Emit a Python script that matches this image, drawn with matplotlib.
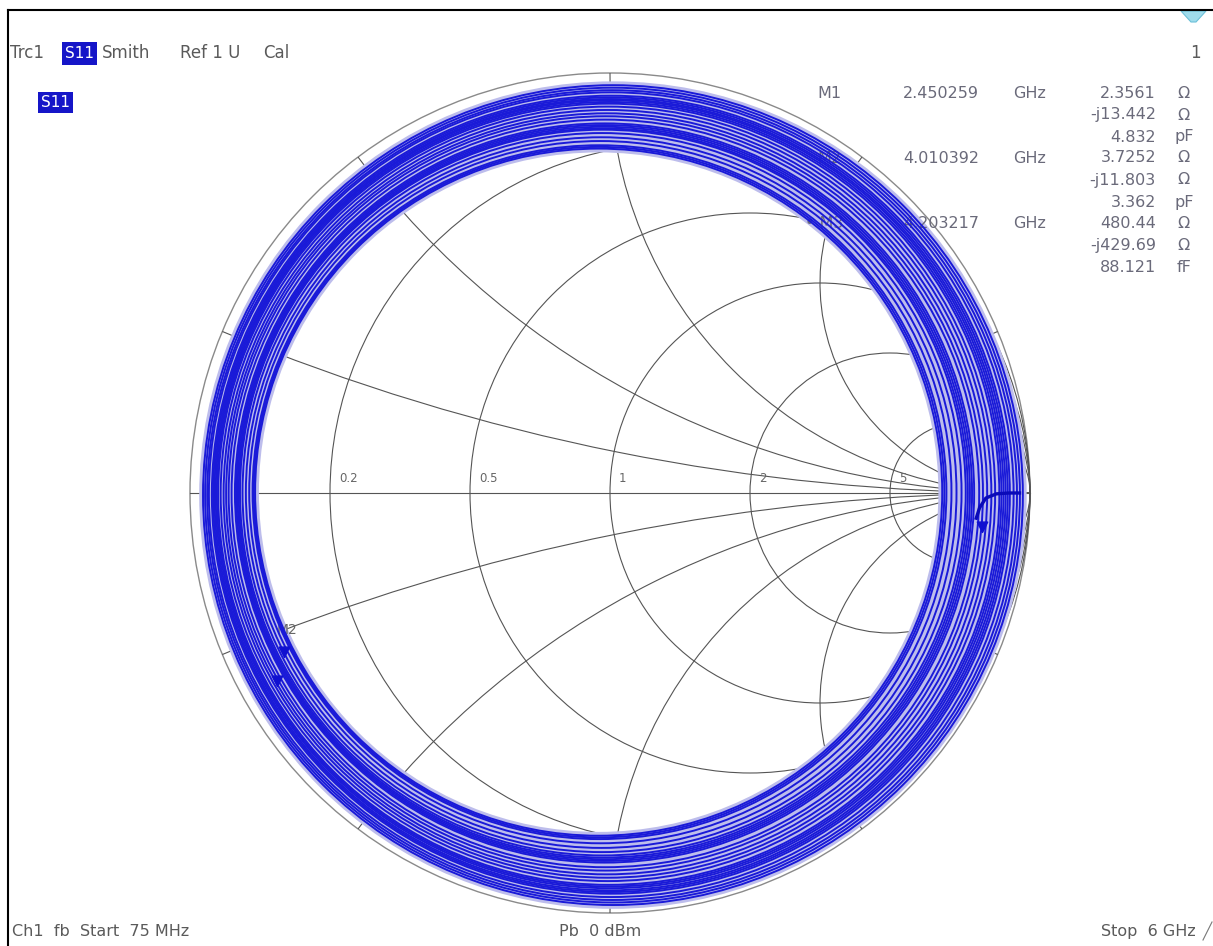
import numpy as np
import matplotlib
matplotlib.use("Agg")
import matplotlib.pyplot as plt
from matplotlib.patches import Circle, Arc, Rectangle, Polygon
from matplotlib.path import Path
import matplotlib.transforms as mtransforms

# ---------------- data ----------------
Z0 = 50.0
r_grid = [0.2, 0.5, 1, 2, 5]
x_grid = [0.2, 0.5, 1, 2, 5]
r_labels = ["0.2", "0.5", "1", "2", "5"]
x_labels = ["0.2", "0.5", "1", "2", "5"]

# S11 trace: one entry per loop of the sweep (|Gamma| of the loop and its centre)
loop_mag = [0.818, 0.822, 0.826, 0.836, 0.846, 0.856, 0.864, 0.868, 0.872, 0.876,
            0.880, 0.890, 0.898, 0.906, 0.914, 0.922, 0.930, 0.934, 0.938, 0.942,
            0.946, 0.950, 0.958, 0.964, 0.970, 0.976]
loop_center_re = [-0.027, -0.026, -0.025, -0.023, -0.021, -0.019, -0.017, -0.016,
                  -0.015, -0.014, -0.013, -0.011, -0.010, -0.008, -0.006, -0.005,
                  -0.003, -0.002, -0.001, 0.000, 0.001, 0.002, 0.003, 0.005,
                  0.006, 0.007]
loop_center_im = [0.002, 0.002, 0.002, 0.002, 0.001, 0.001, 0.001, 0.000, 0.000,
                  0.000, 0.000, -0.001, -0.001, -0.002, -0.002, -0.002, -0.003,
                  -0.003, -0.003, -0.004, -0.004, -0.004, -0.004, -0.005, -0.005,
                  -0.005]
# low-frequency start of the sweep near the open point
start_re = [0.975, 0.950, 0.920, 0.895, 0.880, 0.872]
start_im = [0.000, 0.000, -0.002, -0.012, -0.035, -0.060]

# markers
marker_names = ["M1", "M2", "M3"]
marker_freq = ["2.450259", "4.010392", "4.203217"]
marker_R = [2.3561, 3.7252, 480.44]
marker_X = [-13.442, -11.803, -429.69]
marker_C = ["4.832", "3.362", "88.121"]
marker_C_unit = ["pF", "pF", "fF"]

# ---------------- figure ----------------
W, H = 1213, 946
fig = plt.figure(figsize=(W / 100, H / 100), dpi=100)
fig.patch.set_facecolor("white")
CX, CY, R = 610, 493, 420
ax = fig.add_axes([0, 0, 1, 1])
ax.set_xlim(-CX / R, (W - CX) / R)
ax.set_ylim(-(H - CY) / R, CY / R)
ax.axis("off")

pix = mtransforms.Affine2D().scale(1 / W, -1 / H).translate(0, 1) + fig.transFigure

grid_c = "#555555"
txt_c = "#5a5a5a"
blue = "#1a1ad8"
halo = "#bdbdec"
box_blue = "#1515c8"
font = "DejaVu Sans"

# Smith chart grid
ax.add_patch(Circle((0, 0), 1, fill=False, ec="#8a8a8a", lw=1.0, zorder=2))
for r in r_grid:
    ax.add_patch(Circle((r / (1 + r), 0), 1 / (1 + r), fill=False, ec=grid_c,
                        lw=0.8, zorder=2))
for x in x_grid:
    th = np.degrees(np.arctan2((x * x - 1) / x, -2.0)) % 360
    ax.add_patch(Arc((1, 1 / x), 2 / x, 2 / x, theta1=th, theta2=270,
                     ec=grid_c, lw=0.8, zorder=2))
    ax.add_patch(Arc((1, -1 / x), 2 / x, 2 / x, theta1=90, theta2=360 - th,
                     ec=grid_c, lw=0.8, zorder=2))
ax.plot([-1, 1], [0, 0], color=grid_c, lw=0.8, zorder=2)

for r, lab in zip(r_grid, r_labels):
    g = (r - 1) / (r + 1)
    ax.text(g + 9 / R, 15 / R, lab, fontsize=8.5, color="#666666",
            family=font, ha="left", va="center", zorder=2)
for x, lab in zip(x_grid, x_labels):
    for s in (1, -1):
        g = (complex(0, s * x) - 1) / (complex(0, s * x) + 1) * 0.955
        ax.text(g.real + 4 / R, g.imag, lab, fontsize=8.5, color="#666666",
                family=font, ha="left", va="center", zorder=2)

# S11 trace
for m, cr, ci in zip(loop_mag, loop_center_re, loop_center_im):
    ax.add_patch(Circle((cr, ci), m, fill=False, ec=halo, lw=5.5, zorder=3))
for m, cr, ci in zip(loop_mag, loop_center_re, loop_center_im):
    ax.add_patch(Circle((cr, ci), m, fill=False, ec=blue, lw=1.4, zorder=4))
ax.plot(start_re, start_im, color="#0a0ab8", lw=2.4, zorder=5)

# markers on the trace
tri = Path([(-0.5, 1.0), (0.5, 1.0), (0.0, 0.0), (-0.5, 1.0)],
           [Path.MOVETO, Path.LINETO, Path.LINETO, Path.CLOSEPOLY])
gam = []
for Rv, Xv in zip(marker_R, marker_X):
    z = complex(Rv, Xv) / Z0
    gam.append((z - 1) / (z + 1))
for g in gam:
    ax.plot([g.real], [g.imag], marker=tri, ms=15, color="#1010d0",
            ls="none", zorder=6)
g2 = gam[1]
ax.text(g2.real + 3 / R, g2.imag + 27 / R, "M2", fontsize=10, color="#666666",
        family=font, ha="center", va="center", zorder=3.5)

# ---------------- annotation text ----------------
def ptext(x, y, s, size=11.5, ha="left", color=txt_c, **kw):
    fig.text(x, y, s, transform=pix, fontsize=size, ha=ha, va="center",
             color=color, family=font, **kw)

# header
ptext(10, 53, "Trc1", 12)
fig.patches.append(Rectangle((62, 42), 35, 23, transform=pix, fc=box_blue,
                             ec="none", figure=fig))
ptext(79.5, 53.5, "S11", 11, ha="center", color="white")
ptext(102, 53, "Smith", 12)
ptext(180, 53, "Ref 1 U", 12)
ptext(263, 53, "Cal", 12)
ptext(1201, 53, "1", 12, ha="right")
fig.patches.append(Rectangle((38, 92), 35, 21, transform=pix, fc=box_blue,
                             ec="none", figure=fig))
ptext(55.5, 102.5, "S11", 11, ha="center", color="white")

# marker list (drawn under the trace)
list_c = "#6a6a7a"
row_y = [93, 115, 137, 158, 180, 202, 223, 245, 267]
for i, (name, f, Rv, Xv, C, cu) in enumerate(zip(marker_names, marker_freq,
                                                   marker_R, marker_X,
                                                   marker_C, marker_C_unit)):
    y0 = row_y[3 * i]
    lab = ("\u2022 " + name) if i == 2 else name
    ax.text((817 - CX - (12 if i == 2 else 0)) / R, (CY - y0) / R, lab,
            fontsize=11.5, color=list_c, family=font, va="center", zorder=3.5)
    ax.text((903 - CX) / R, (CY - y0) / R, f, fontsize=11.5, color=list_c,
            family=font, va="center", zorder=3.5)
    ax.text((1013 - CX) / R, (CY - y0) / R, "GHz", fontsize=11.5, color=list_c,
            family=font, va="center", zorder=3.5)
    vals = ["%.4f" % Rv if Rv < 100 else "%.2f" % Rv,
            "-j%.3f" % abs(Xv) if abs(Xv) < 100 else "-j%.2f" % abs(Xv),
            C]
    units = ["\u03a9", "\u03a9", cu]
    for k in range(3):
        yk = row_y[3 * i + k]
        ptext(1156, yk, vals[k], 11.5, ha="right", color=list_c)
        ptext(1184, yk, units[k], 11.5, ha="center", color=list_c)

# footer
ptext(12, 931, "Ch1  fb  Start  75 MHz", 11.5)
ptext(600, 931, "Pb  0 dBm", 11.5, ha="center")
ptext(1196, 931, "Stop  6 GHz", 11.5, ha="right")
fig.lines.append(plt.Line2D([1203, 1212], [940, 922], transform=pix,
                            color="#777777", lw=0.8))

# frame and status icon
fig.lines.append(plt.Line2D([8, W], [10, 10], transform=pix, color="black", lw=1.5))
fig.lines.append(plt.Line2D([8, 8], [10, H], transform=pix, color="black", lw=1.5))
fig.patches.append(Polygon([(1181, 11), (1206, 11), (1196, 22), (1191, 22)],
                           closed=True, transform=pix, fc="#9fdcec",
                           ec="#6cc0d8", lw=0.8, figure=fig))

fig.savefig("out.png", dpi=100)
